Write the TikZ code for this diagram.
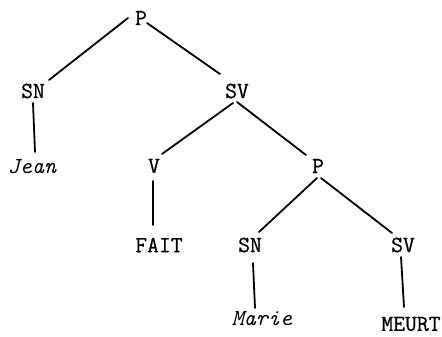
\documentclass[tikz,border=0pt]{standalone}
\usepackage{fontspec}
\newfontfamily\twfont{Latin Modern Mono}[FakeBold=0.6]
\newfontfamily\twitfont{Latin Modern Mono}
\begin{document}
\begin{tikzpicture}[x=1pt,y=-1pt,
  lab/.style={font=\fontsize{23}{27}\selectfont\twfont, inner sep=0pt, anchor=center},
  ilab/.style={font=\fontsize{23}{27}\selectfont\twitfont\itshape, inner sep=0pt, anchor=center},
  branch/.style={line width=1.8pt, line cap=round}]
\useasboundingbox (0,0) rectangle (442,337);
\node[lab] (P) at (141,18) {P};
\node[lab] (SN) at (33,91) {SN};
\node[lab] (SV) at (237,91) {SV};
\node[ilab] (Jean) at (32,167) {Jean};
\node[lab] (V) at (154,166) {V};
\node[lab] (P2) at (318,166) {P};
\node[lab] (FAIT) at (159,245) {FAIT};
\node[lab] (SN2) at (250,245) {SN};
\node[lab] (SV2) at (403,245) {SV};
\node[ilab] (Marie) at (262,319) {Marie};
\node[lab] (MEURT) at (411,324) {MEURT};
\draw[branch] ([shift={(-13,0)}]P.center) -- ([shift={(16,-11)}]SN.center);
\draw[branch] ([shift={(6,5)}]P.center) -- ([shift={(-17,-17)}]SV.center);
\draw[branch] ([shift={(0,12)}]SN.center) -- ([shift={(3,-15)}]Jean.center);
\draw[branch] ([shift={(-4,12)}]SV.center) -- ([shift={(8,-12)}]V.center);
\draw[branch] ([shift={(0,11)}]SV.center) -- ([shift={(-12,-11)}]P2.center);
\draw[branch] ([shift={(-1,15)}]V.center) -- ([shift={(-6,-20)}]FAIT.center);
\draw[branch] ([shift={(-1,12)}]P2.center) -- ([shift={(9,-13)}]SN2.center);
\draw[branch] ([shift={(3,12)}]P2.center) -- ([shift={(-11,-12)}]SV2.center);
\draw[branch] ([shift={(3,18)}]SN2.center) -- ([shift={(-7,-11)}]Marie.center);
\draw[branch] ([shift={(-2,12)}]SV2.center) -- ([shift={(-7,-17)}]MEURT.center);
\end{tikzpicture}
\end{document}
